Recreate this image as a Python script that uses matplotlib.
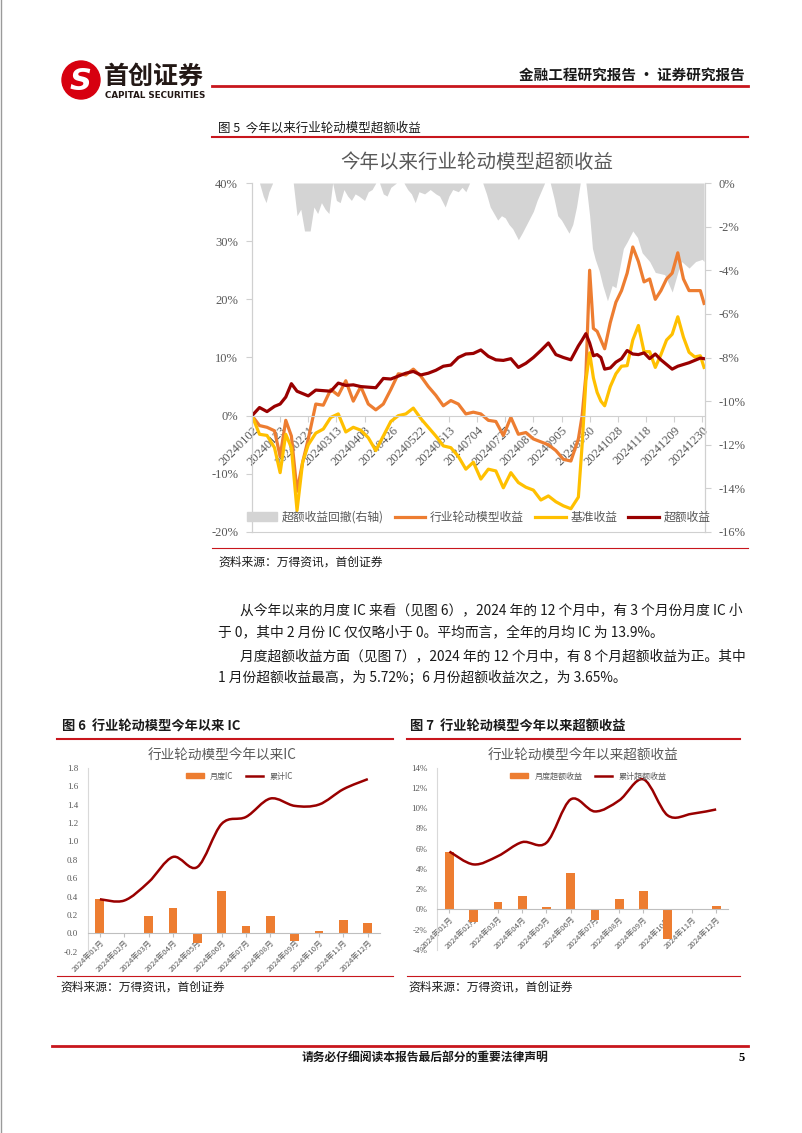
import matplotlib
matplotlib.use('Agg')
import matplotlib.pyplot as plt
from matplotlib.patches import Patch, Circle, PathPatch
from matplotlib.lines import Line2D
from matplotlib.path import Path
import numpy as np

plt.rcParams['font.family'] = ['Noto Sans CJK SC', 'DejaVu Sans']
plt.rcParams['axes.unicode_minus'] = False

W, H = 802, 1133

# ---- 图5: daily series, read at trading-day index (0 = 20240102) ----
day_idx = [0, 4, 8, 12, 15, 18, 21, 24, 27, 30, 34, 38, 42, 46, 50, 54, 58, 62, 66, 70,
           74, 78, 82, 86, 90, 94, 98, 102, 106, 110, 114, 118, 122, 126, 130, 134, 138, 142, 146, 150,
           154, 158, 162, 166, 170, 174, 176, 178, 180, 182, 184, 186, 188, 191, 194, 197, 200, 203, 206, 209,
           212, 215, 218, 221, 224, 227, 230, 233, 236, 239, 241]
model_ret = [0, -1.7, -2.0, -2.6, -7.0, -0.8, -3.5, -13.0, -8.0, -4.0, 2.0, 1.8, 4.5, 3.5, 6.0, 2.5, 5.0, 2.0, 1.0, 2.0,
             4.5, 7.2, 7.0, 8.0, 6.8, 5.0, 3.5, 1.7, 2.6, 2.0, 0.3, 0.6, 0.3, -0.8, -1.0, -3.4, -0.3, -3.2, -2.9, -4.0,
             -4.5, -5.0, -6.0, -7.5, -7.8, -4.0, 0.0, 7.0, 25.0, 15.0, 14.5, 13.0, 11.5, 16.0, 19.5, 21.5, 24.5, 29.0, 26.5, 23.0,
             23.5, 20.0, 21.5, 23.5, 24.5, 28.0, 23.5, 21.5, 21.5, 21.5, 19.3]
bench_ret = [0, -3.2, -3.4, -5.5, -9.8, -3.2, -5.5, -16.3, -8.0, -5.0, -3.0, -2.3, -0.3, 0.3, -2.8, -2.0, -2.5, -3.8, -6.0, -3.5,
             -1.0, 0.0, 0.3, 1.3, -0.5, -2.0, -3.5, -5.2, -5.5, -7.0, -9.2, -8.0, -10.9, -9.2, -9.5, -12.4, -9.8, -11.5, -12.3, -12.8,
             -14.5, -13.8, -14.8, -15.5, -16.0, -14.0, -5.0, 6.0, 10.8, 6.5, 4.0, 2.5, 1.7, 5.0, 7.2, 8.5, 8.6, 13.0, 15.5, 11.0,
             11.0, 8.3, 10.5, 13.0, 14.0, 17.0, 13.5, 10.9, 10.1, 10.3, 8.3]
excess_ret = [0, 1.4, 0.7, 1.6, 2.0, 3.2, 5.5, 4.2, 3.8, 3.4, 4.4, 4.3, 4.2, 5.6, 5.2, 5.3, 5.0, 4.9, 4.8, 6.4,
              6.3, 6.8, 7.3, 7.6, 7.0, 7.3, 7.8, 8.5, 8.7, 10.0, 10.6, 10.7, 11.3, 10.2, 9.6, 9.5, 9.8, 8.3, 9.0, 10.0,
              11.2, 12.5, 10.5, 10.0, 9.6, 12.0, 13.0, 14.1, 12.5, 10.3, 10.5, 10.0, 8.0, 8.2, 9.2, 9.8, 11.2, 10.6, 10.5, 10.8,
              9.8, 10.6, 9.6, 8.8, 8.0, 8.5, 8.8, 9.1, 9.5, 9.9, 9.8]
dd_idx = [0, 4, 6, 7.5, 9, 11, 22, 24, 26, 28, 31, 33, 35, 37, 39, 41, 43, 45, 47, 49,
          51, 53, 55, 57, 60, 62, 64, 66, 68, 70, 72, 74, 77, 81, 83, 85, 87, 89, 92, 95,
          98, 100, 103, 105, 107, 110, 112, 114, 116, 123, 125, 127, 129, 131, 133, 135, 137, 139, 142, 144,
          147, 150, 152, 154, 156, 159, 161, 163, 165, 167, 169, 171, 173, 175, 178, 180, 181.5, 183, 185, 187,
          189.5, 192, 194, 196, 198, 200, 203, 205.5, 208, 212, 215, 220, 224, 227, 229, 233, 236.5, 240, 241]
dd_vals = [0, 0, -0.6, -0.9, -0.4, 0, 0, -1.5, -1.2, -2.2, -2.2, -1.1, -1.4, -0.9, -1.2, -1.4, 0, -0.8, -0.9, -0.3,
           -0.6, -0.8, -0.5, -0.6, -0.8, -0.4, -0.3, 0, 0, -0.5, -0.6, -0.2, 0, 0, -0.3, -0.5, -0.9, -0.4, -0.5, -0.3,
           -0.5, -0.6, -1.1, -0.6, -0.3, -0.4, -0.2, -0.4, 0, 0, -0.5, -1.1, -1.4, -1.7, -1.5, -1.6, -1.9, -2.1, -2.6, -2.3,
           -1.8, -1.3, -0.8, -0.4, 0, 0, -0.7, -1.5, -1.7, -2.0, -2.3, -1.9, -1.1, 0, 0, -1.5, -3.0, -3.5, -4.0, -4.7,
           -5.4, -4.7, -4.8, -3.9, -3.0, -2.7, -2.2, -2.5, -3.2, -3.6, -4.1, -4.2, -5.0, -4.1, -3.6, -3.9, -3.6, -3.5, -3.6]
date_labels = ['20240102', '20240123', '20240221', '20240313', '20240403', '20240426', '20240522', '20240613',
               '20240704', '20240725', '20240815', '20240905', '20240930', '20241028', '20241118', '20241209', '20241230']

# ---- 图6 / 图7: monthly ----
months = ['2024年01月', '2024年02月', '2024年03月', '2024年04月', '2024年05月', '2024年06月',
          '2024年07月', '2024年08月', '2024年09月', '2024年10月', '2024年11月', '2024年12月']
ic_month = [0.375, -0.005, 0.185, 0.276, -0.105, 0.465, 0.08, 0.185, -0.08, 0.03, 0.145, 0.11]
ic_cum = [0.37, 0.356, 0.556, 0.83, 0.72, 1.19, 1.265, 1.465, 1.385, 1.40, 1.567, 1.676]
ex_month = [5.72, -1.22, 0.76, 1.32, 0.20, 3.65, -0.99, 1.02, 1.81, -2.93, -0.07, 0.30]
ex_cum = [5.72, 4.45, 5.27, 6.65, 6.59, 10.87, 9.68, 10.77, 12.85, 9.29, 9.45, 9.88]

ORANGE = '#ED7D31'
YELLOW = '#FFC000'
DARKRED = '#990000'
GREYTXT = '#595959'
RED = '#C8161D'
SERIF = 'Liberation Serif'

fig = plt.figure(figsize=(W / 100, H / 100), dpi=100)
page = fig.add_axes([0, 0, 1, 1], zorder=0)
page.set_xlim(0, W)
page.set_ylim(H, 0)
page.axis('off')


def ax_at(l, t, r, b):
    return fig.add_axes([l / W, 1 - b / H, (r - l) / W, (b - t) / H], zorder=2)


def smooth_line(ax, xs, ys, **kw):
    pts = np.column_stack([xs, ys]).astype(float)
    ext = np.vstack([pts[0], pts, pts[-1]])
    verts = [pts[0]]
    codes = [Path.MOVETO]
    for i in range(len(pts) - 1):
        p0, p1, p2, p3 = ext[i], ext[i + 1], ext[i + 2], ext[i + 3]
        verts += [p1 + (p2 - p0) / 6, p2 - (p3 - p1) / 6, p2]
        codes += [Path.CURVE4] * 3
    ax.add_patch(PathPatch(Path(verts, codes), fill=False, **kw))


# ---- page header ----
page.plot([1, 1], [0, H], color='#9a9a9a', lw=1)
page.add_patch(Circle((81, 80), 19, color='#D7000F'))
page.text(81, 81, 'S', color='white', fontsize=22, fontweight='bold', style='italic',
          ha='center', va='center', family='DejaVu Sans')
page.text(104, 77, '首创证券', fontsize=18, fontweight='bold', color='#231815', va='center')
page.text(105, 95, 'CAPITAL SECURITIES', fontsize=6.3, fontweight='bold', color='#231815',
          va='center', family='DejaVu Sans')
page.plot([212, 748], [86, 86], color=RED, lw=2)
page.text(745, 75, '金融工程研究报告 · 证券研究报告', fontsize=10.5, fontweight='bold',
          ha='right', va='center', color='#1a1a1a')

# ---- 图5 caption ----
page.text(218, 128, '图 5  今年以来行业轮动模型超额收益', fontsize=9, va='center', color='#1a1a1a')
page.plot([212, 748], [137, 137], color=RED, lw=1.5)
page.text(477, 162, '今年以来行业轮动模型超额收益', fontsize=14, ha='center', va='center', color=GREYTXT)
page.plot([212, 748], [548, 548], color=RED, lw=0.8)
page.text(218, 562, '资料来源：万得资讯，首创证券', fontsize=8.5, va='center', color='#1a1a1a')

ax = ax_at(252, 183, 705, 532)
ax2 = ax.twinx()
ax.set_zorder(3)
ax2.set_zorder(2)
ax.patch.set_visible(False)
ax.spines['bottom'].set_position(('data', 0))

ax2.fill_between(dd_idx, dd_vals, 0, color='#D4D4D4', lw=0)
ax2.set_ylim(-16, 0)
ax2.set_yticks(range(-16, 1, 2))
ax2.set_yticklabels([f'{v}%' for v in range(-16, 1, 2)], family=SERIF, fontsize=9, color=GREYTXT)

ax.plot(day_idx, model_ret, color=ORANGE, lw=2.3)
ax.plot(day_idx, bench_ret, color=YELLOW, lw=2.3)
ax.plot(day_idx, excess_ret, color=DARKRED, lw=2.3)
ax.set_xlim(0, 241.5)
ax.set_ylim(-20, 40)
ax2.set_xlim(0, 241.5)
ax.set_yticks(range(-20, 41, 10))
ax.set_yticklabels([f'{v}%' for v in range(-20, 41, 10)], family=SERIF, fontsize=9, color=GREYTXT)
ax.set_xticks(range(0, 241, 15))
ax.set_xticklabels(date_labels, rotation=45, ha='right', rotation_mode='anchor',
                   family=SERIF, fontsize=9, color=GREYTXT)
for a in (ax, ax2):
    a.spines['top'].set_visible(False)
    for s in ('left', 'right', 'bottom'):
        a.spines[s].set_color('#D0D0D0')
        a.spines[s].set_linewidth(0.8)
ax.tick_params(axis='x', length=4, color='#D0D0D0', pad=2)
ax.tick_params(axis='y', length=4, color='#D0D0D0', pad=6)
ax2.tick_params(axis='y', length=4, color='#D0D0D0', pad=6)

handles = [Patch(color='#D4D4D4', label='超额收益回撤(右轴)'),
           Line2D([], [], color=ORANGE, lw=2.3, label='行业轮动模型收益'),
           Line2D([], [], color=YELLOW, lw=2.3, label='基准收益'),
           Line2D([], [], color=DARKRED, lw=2.3, label='超额收益')]
leg = ax.legend(handles=handles, loc='lower center', bbox_to_anchor=(0.5, 0.0), ncol=4, frameon=False,
                fontsize=8.5, handlelength=2.6, columnspacing=0.9, handletextpad=0.4,
                labelcolor=GREYTXT, borderaxespad=0.3)

# ---- body text ----
body = [
    (240, 610, '从今年以来的月度 IC 来看（见图 6），2024 年的 12 个月中，有 3 个月份月度 IC 小'),
    (218, 632, '于 0，其中 2 月份 IC 仅仅略小于 0。平均而言，全年的月均 IC 为 13.9%。'),
    (240, 656, '月度超额收益方面（见图 7），2024 年的 12 个月中，有 8 个月超额收益为正。其中'),
    (218, 678, '1 月份超额收益最高，为 5.72%；6 月份超额收益次之，为 3.65%。'),
]
for x, y, s in body:
    page.text(x, y, s, fontsize=9.9, va='center', color='#1a1a1a')

# ---- 图6 ----
page.text(62, 727, '图 6  行业轮动模型今年以来 IC', fontsize=9.5, fontweight='bold', va='center', color='#1a1a1a')
page.plot([57, 393], [739, 739], color=RED, lw=1.5)
page.text(222, 756, '行业轮动模型今年以来IC', fontsize=9.8, ha='center', va='center', color=GREYTXT)
page.plot([57, 393], [976, 976], color=RED, lw=0.8)
page.text(60, 987, '资料来源：万得资讯，首创证券', fontsize=8.5, va='center', color='#1a1a1a')

# ---- 图7 ----
page.text(410, 727, '图 7  行业轮动模型今年以来超额收益', fontsize=9.5, fontweight='bold', va='center', color='#1a1a1a')
page.plot([407, 740], [739, 739], color=RED, lw=1.5)
page.text(583, 756, '行业轮动模型今年以来超额收益', fontsize=9.8, ha='center', va='center', color=GREYTXT)
page.plot([407, 740], [976, 976], color=RED, lw=0.8)
page.text(408, 987, '资料来源：万得资讯，首创证券', fontsize=8.5, va='center', color='#1a1a1a')


def monthly_chart(a, bars, cum, ylo, yhi, step, fmt, bar_label, line_label):
    x = np.arange(len(months))
    a.spines['bottom'].set_position(('data', 0))
    a.bar(x, bars, width=0.36, color=ORANGE, zorder=2)
    smooth_line(a, x, cum, edgecolor=DARKRED, lw=1.8, zorder=3)
    a.set_xlim(-0.5, 11.5)
    a.set_ylim(ylo, yhi)
    ticks = np.arange(ylo, yhi + step / 2, step)
    a.set_yticks(ticks)
    a.set_yticklabels([fmt(t) for t in ticks], family=SERIF, fontsize=6.5, color=GREYTXT)
    a.set_xticks(x)
    a.set_xticklabels(months, rotation=45, ha='right', rotation_mode='anchor', fontsize=5.6, color=GREYTXT)
    a.spines['top'].set_visible(False)
    a.spines['right'].set_visible(False)
    a.spines['left'].set_color('#D9D9D9')
    a.spines['bottom'].set_color('#BFBFBF')
    a.tick_params(axis='x', length=3, color='#BFBFBF', pad=1)
    a.tick_params(axis='y', length=0, pad=7)
    h = [Patch(color=ORANGE, label=bar_label), Line2D([], [], color=DARKRED, lw=1.8, label=line_label)]
    a.legend(handles=h, loc='upper center', bbox_to_anchor=(0.52, 1.0), ncol=2, frameon=False,
             fontsize=5.8, labelcolor=GREYTXT, handlelength=2.2, columnspacing=1.5, borderaxespad=0.1,
             handleheight=0.6)


ax6 = ax_at(87.7, 767.7, 380, 951.7)
monthly_chart(ax6, ic_month, ic_cum, -0.2, 1.8, 0.2, lambda t: f'{t:.1f}', '月度IC', '累计IC')

ax7 = ax_at(437.3, 767.7, 728.3, 950)
monthly_chart(ax7, ex_month, ex_cum, -4, 14, 2, lambda t: f'{t:.0f}%', '月度超额收益', '累计超额收益')

# ---- footer ----
page.plot([52, 748], [1046, 1046], color=RED, lw=2)
page.text(425, 1058, '请务必仔细阅读本报告最后部分的重要法律声明', fontsize=8.5, fontweight='bold',
          ha='center', va='center', color='#1a1a1a')
page.text(742, 1058, '5', fontsize=9, fontweight='bold', ha='center', va='center', family=SERIF)

fig.savefig('out.png', dpi=100)
